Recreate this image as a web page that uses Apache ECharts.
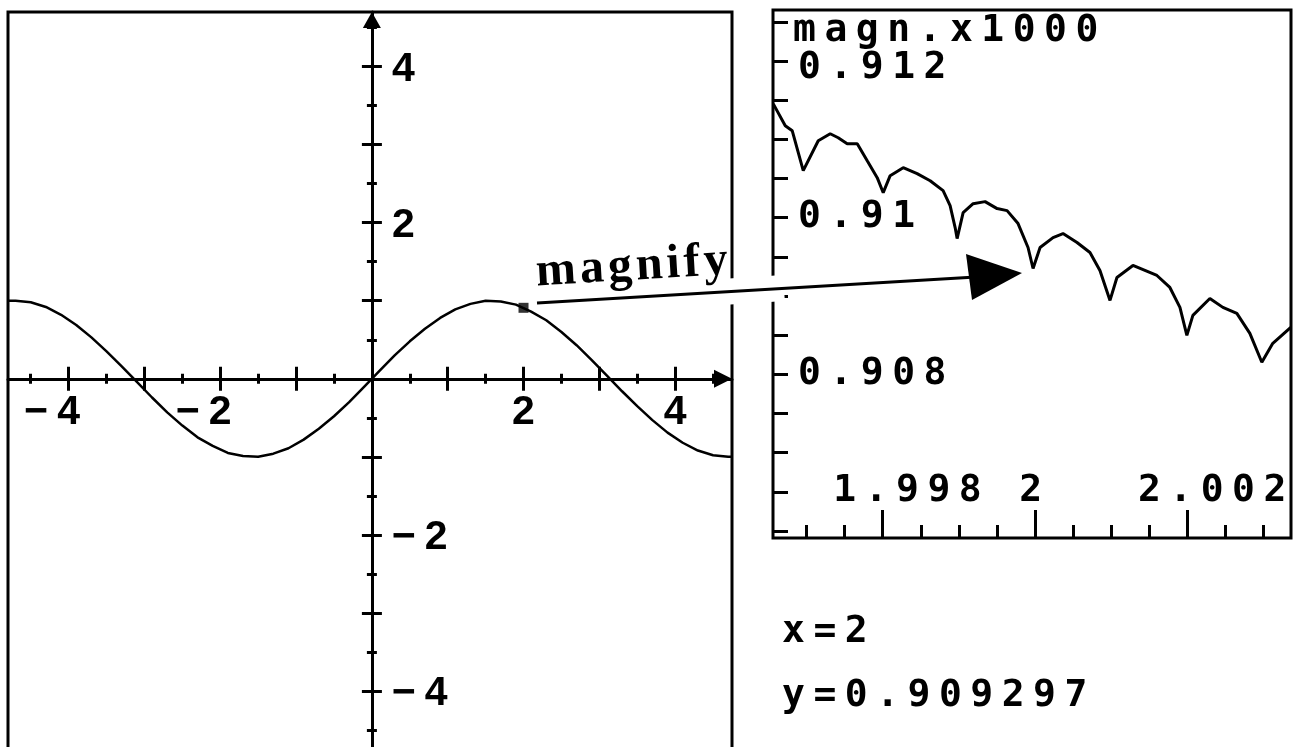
<!DOCTYPE html>
<html><head><meta charset="utf-8">
<script src="https://cdn.jsdelivr.net/npm/echarts@6/dist/echarts.min.js"></script>
<style>html,body{margin:0;padding:0;background:#fff}#c{width:1294px;height:747px}</style>
</head><body><div id="c"></div>
<script>
// ---- data ----
const mainX = [-4.8,-4.7,-4.5,-4.3,-4.1,-3.9,-3.7,-3.5,-3.3,-3.1,-2.9,-2.7,-2.5,-2.3,-2.1,-1.9,-1.7,-1.5,-1.3,-1.1,-0.9,-0.7,-0.5,-0.3,-0.1,0.1,0.3,0.5,0.7,0.9,1.1,1.3,1.5,1.7,1.9,2.1,2.3,2.5,2.7,2.9,3.1,3.3,3.5,3.7,3.9,4.1,4.3,4.5,4.7,4.75];
const mainY = [1.00,1.00,0.98,0.92,0.82,0.69,0.53,0.35,0.16,-0.04,-0.24,-0.43,-0.60,-0.75,-0.86,-0.95,-0.99,-1.00,-0.96,-0.89,-0.78,-0.64,-0.48,-0.30,-0.10,0.10,0.30,0.48,0.64,0.78,0.89,0.96,1.00,0.99,0.95,0.86,0.75,0.60,0.43,0.24,0.04,-0.16,-0.35,-0.53,-0.69,-0.82,-0.92,-0.98,-1.00,-1.00];
const zoomX = [1.996564,1.996721,1.996813,1.996957,1.997154,1.997311,1.997416,1.997534,1.997666,1.997797,1.997928,1.998007,1.998098,1.998269,1.998452,1.998623,1.998793,1.998885,1.998951,1.998977,1.999056,1.999187,1.999344,1.999502,1.999633,1.999777,1.999908,1.999974,2.000066,2.000236,2.000367,2.000551,2.000721,2.000852,2.000984,2.001075,2.001285,2.001600,2.001770,2.001902,2.001993,2.002072,2.002295,2.002466,2.002649,2.002820,2.002977,2.003121,2.003357];
const zoomY = [0.911452,0.911172,0.911108,0.910599,0.910981,0.911070,0.911019,0.910943,0.910943,0.910726,0.910510,0.910318,0.910535,0.910637,0.910561,0.910471,0.910344,0.910153,0.909873,0.909732,0.910064,0.910178,0.910204,0.910115,0.910089,0.909924,0.909618,0.909350,0.909618,0.909745,0.909796,0.909682,0.909554,0.909325,0.908943,0.909236,0.909389,0.909261,0.909108,0.908854,0.908497,0.908752,0.908968,0.908854,0.908777,0.908522,0.908153,0.908395,0.908599];
const markX = [2];
const markY = [0.909297];
const mainMajorTicks = [-4,-3,-2,-1,1,2,3,4];
const mainMinorTicks = [-4.5,-3.5,-2.5,-1.5,-0.5,0.5,1.5,2.5,3.5,4.5];
const mainLabels = [-4,-2,2,4];
const zoomXMajor = [1.998,2,2.002];
const zoomXMinor = [1.997,1.9975,1.9985,1.999,1.9995,2.0005,2.001,2.0015,2.0025,2.003];
const zoomXLabels = [1.998,2,2.002];
const zoomYTicks = [0.906,0.9065,0.907,0.9075,0.908,0.9085,0.909,0.9095,0.91,0.9105,0.911,0.9115,0.912,0.9125];
const zoomYLabels = [0.908,0.91,0.912];
const zoomTitle = 'magn.x1000';
const readout = ['x=2','y=0.909297'];
const arrowText = 'magnify';

// letter spacing for the calculator-style font
(function(){
  const P = CanvasRenderingContext2D.prototype;
  const f = P.fillText;
  P.fillText = function(t,x,y,w){
    if ('letterSpacing' in this) {
      this.letterSpacing = /Mono/.test(this.font) ? '8.5px' : (/Serif/.test(this.font) ? '4px' : '0px');
    }
    return w === undefined ? f.call(this,t,x,y) : f.call(this,t,x,y,w);
  };
})();

const chart = echarts.init(document.getElementById('c'), null, {renderer:'canvas'});
const K = '#000';
const sans = {fontFamily:'Liberation Sans', fontWeight:'bold', fontSize:41, color:K};
const mono = {fontFamily:'DejaVu Sans Mono', fontWeight:'bold', fontSize:38, color:K};
const LX = {min:-4.8, max:4.75};
const LY = {min:-4.77, max:4.7};
const RX = {min:1.99656, max:2.00336};
const RY = {min:0.90591, max:0.91265};
const LG = {left:8, top:12, width:724, height:739};
const RG = {left:773, top:10, width:518, height:528};
// the crossing axes sit where the other axis is zero
const xAxisShift = -LG.height * (0 - LY.min) / (LY.max - LY.min);
const yAxisShift = -LG.width * (0 - LX.min) / (LX.max - LX.min);

function fmtMain(v){ return v < 0 ? '{m|\u2212}{n|' + Math.abs(v) + '}' : '{p|' + v + '}'; }
function fmtNum(v){ return String(+(+v).toFixed(4)); }
const topZoomLabel = Math.max.apply(null, zoomYLabels);

function mainAxis(pos, range, shift, ticks, len, inside, extra){
  return Object.assign({
    type:'value', gridIndex:0, position:pos, offset:shift, min:range.min, max:range.max,
    axisLine:{show:false, onZero:false, lineStyle:{color:K, width:3}},
    axisTick:{show:true, inside:inside, length:len, customValues:ticks, lineStyle:{color:K, width:3}},
    axisLabel:{show:false}, splitLine:{show:false}
  }, extra || {});
}

const xAxes = [
  mainAxis('bottom', LX, xAxisShift, mainMajorTicks, 12, false, {
    axisLine:{show:true, onZero:false, lineStyle:{color:K, width:3},
      symbol:['none','triangle'], symbolSize:[18,18], symbolOffset:[0,-9]},
    axisLabel:{show:true, customValues:mainLabels, margin:13, formatter:fmtMain,
      rich:{m:Object.assign({}, sans, {padding:[0,9,0,0]}), n:Object.assign({}, sans, {padding:[0,33,0,0]}), p:sans}}
  }),
  mainAxis('bottom', LX, xAxisShift, mainMajorTicks, 12, true),
  mainAxis('bottom', LX, xAxisShift, mainMinorTicks, 5, false),
  mainAxis('bottom', LX, xAxisShift, mainMinorTicks, 5, true),
  {type:'value', gridIndex:1, position:'bottom', min:RX.min, max:RX.max,
    axisLine:{show:false, onZero:false}, splitLine:{show:false},
    axisTick:{show:true, inside:true, length:28, customValues:zoomXMajor, lineStyle:{color:K, width:3}},
    axisLabel:{show:true, inside:true, margin:28, customValues:zoomXLabels,
      formatter:v => { const s = fmtNum(v); return s.indexOf('.') >= 0 ? '{d|' + s + '}' : '{t|' + s + '}'; },
      rich:{t:mono, d:Object.assign({}, mono, {padding:[0,0,0,58]})}}},
  {type:'value', gridIndex:1, position:'bottom', min:RX.min, max:RX.max,
    axisLine:{show:false, onZero:false}, splitLine:{show:false}, axisLabel:{show:false},
    axisTick:{show:true, inside:true, length:13, customValues:zoomXMinor, lineStyle:{color:K, width:3}}}
];
const yAxes = [
  mainAxis('left', LY, yAxisShift, mainMajorTicks, 10, false, {
    axisLine:{show:true, onZero:false, lineStyle:{color:K, width:3},
      symbol:['none','triangle'], symbolSize:[18,16], symbolOffset:[0,-8]},
    axisLabel:{show:true, inside:true, customValues:mainLabels, margin:20, formatter:fmtMain,
      rich:{m:Object.assign({}, sans, {padding:[6,9,0,0]}), n:Object.assign({}, sans, {padding:[6,0,0,0]}), p:Object.assign({}, sans, {padding:[6,0,0,0]})}}
  }),
  mainAxis('left', LY, yAxisShift, mainMajorTicks, 10, true),
  mainAxis('left', LY, yAxisShift, mainMinorTicks, 5, false),
  mainAxis('left', LY, yAxisShift, mainMinorTicks, 5, true),
  {type:'value', gridIndex:1, position:'left', min:RY.min, max:RY.max,
    axisLine:{show:false, onZero:false}, splitLine:{show:false},
    axisTick:{show:true, inside:true, length:15, customValues:zoomYTicks, lineStyle:{color:K, width:3}},
    axisLabel:{show:true, inside:true, margin:25, customValues:zoomYLabels,
      formatter:v => (Math.abs(v - topZoomLabel) < 1e-9 ? '{h|' : '{r|') + fmtNum(v) + '}',
      rich:{r:mono, h:Object.assign({}, mono, {padding:[14,0,0,0]})}}}
];

chart.setOption({
  animation:false,
  backgroundColor:'#fff',
  grid:[
    Object.assign({show:true, borderColor:K, borderWidth:3, backgroundColor:'transparent', containLabel:false, outerBoundsMode:'none'}, LG),
    Object.assign({show:true, borderColor:K, borderWidth:3, backgroundColor:'transparent', containLabel:false, outerBoundsMode:'none'}, RG)
  ],
  xAxis:xAxes,
  yAxis:yAxes,
  series:[
    {type:'line', xAxisIndex:0, yAxisIndex:0, data:mainX.map((x,i)=>[x, mainY[i]]), showSymbol:false,
      lineStyle:{color:K, width:2.5}, itemStyle:{color:K}, z:3},
    {type:'scatter', xAxisIndex:0, yAxisIndex:0, data:markX.map((x,i)=>[x, markY[i]]), symbol:'rect', symbolSize:10,
      itemStyle:{color:K}, z:4},
    {type:'line', xAxisIndex:4, yAxisIndex:4, data:zoomX.map((x,i)=>[x, zoomY[i]]), showSymbol:false,
      lineStyle:{color:K, width:3}, itemStyle:{color:K}, z:3}
  ],
  graphic:{elements:[
    {type:'text', left:793, top:12, z:100, style:{text:zoomTitle, fontFamily:'DejaVu Sans Mono', fontWeight:'bold', fontSize:38, fill:K}},
    {type:'text', x:782, y:632, z:100, style:{text:readout[0], fontFamily:'DejaVu Sans Mono', fontWeight:'bold', fontSize:38, fill:K, align:'left', verticalAlign:'middle'}},
    {type:'text', x:782, y:696, z:100, style:{text:readout[1], fontFamily:'DejaVu Sans Mono', fontWeight:'bold', fontSize:38, fill:K, align:'left', verticalAlign:'middle'}},
    {type:'polyline', z:99, shape:{points:[[722,292],[784,288]]}, style:{stroke:'#fff', lineWidth:26, fill:null}},
    {type:'polyline', z:100, shape:{points:[[537,303],[976,277]]}, style:{stroke:K, lineWidth:3, fill:null}},
    {type:'polygon', z:100, shape:{points:[[966,254],[1022,273],[972,300]]}, style:{fill:K}},
    {type:'text', x:537, y:288, rotation:0.06, z:100, style:{text:arrowText, x:0, y:-15, fontFamily:'Liberation Serif', fontWeight:'bold', fontSize:48, fill:K, align:'left', verticalAlign:'middle'}}
  ]}
});
</script></body></html>
